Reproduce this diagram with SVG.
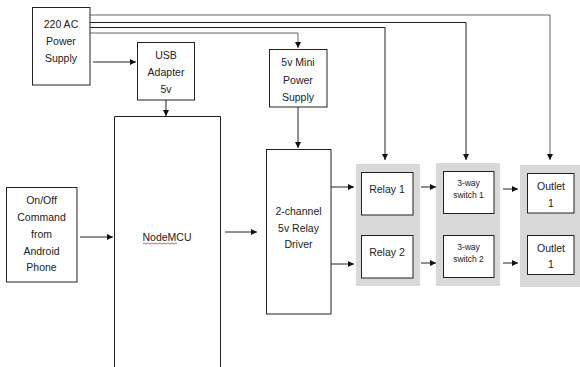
<svg xmlns="http://www.w3.org/2000/svg" width="580" height="367" viewBox="0 0 580 367">
<defs>
<style>
.box{fill:#fff;stroke:#222;stroke-width:1}
.panel{fill:#d9d9d9;stroke:none}
.t{font-family:"Liberation Sans",Arial,sans-serif;font-size:10.5px;fill:#222;text-anchor:middle;dominant-baseline:central}
.s{font-size:8.5px}
.c{fill:none;stroke:#222;stroke-width:1}
.g{stroke:#666}
</style>
<marker id="ah" viewBox="0 0 10 10" refX="10" refY="5" markerWidth="6" markerHeight="6" markerUnits="userSpaceOnUse" orient="auto"><path d="M0,0L10,5L0,10z" fill="#111"/></marker>
</defs>
<rect width="580" height="367" fill="#fff"/>
<g id="panels">
<rect class="panel" x="356" y="164" width="64" height="122"/>
<rect class="panel" x="436" y="163" width="64" height="123"/>
<rect class="panel" x="520" y="165" width="60" height="122"/>
</g>
<g id="connectors">
<path class="c g" d="M90,15H550V160" marker-end="url(#ah)"/>
<path class="c" d="M90,22.5H466V160" marker-end="url(#ah)"/>
<path class="c" d="M90,27.5H385V160" marker-end="url(#ah)"/>
<path class="c g" d="M90,33H298V48" marker-end="url(#ah)"/>
<path class="c" d="M93,62H136" marker-end="url(#ah)"/>
<path class="c" d="M166,100V116" marker-end="url(#ah)"/>
<path class="c" d="M298,107V148" marker-end="url(#ah)"/>
<path class="c" d="M80,237H113" marker-end="url(#ah)"/>
<path class="c" d="M225,232H257" marker-end="url(#ah)"/>
<path class="c" d="M331,187H354" marker-end="url(#ah)"/>
<path class="c" d="M331,264H354" marker-end="url(#ah)"/>
<path class="c" d="M421,187H436" marker-end="url(#ah)"/>
<path class="c" d="M421,263H436" marker-end="url(#ah)"/>
<path class="c" d="M503,189H518" marker-end="url(#ah)"/>
<path class="c" d="M503,263H518" marker-end="url(#ah)"/>
</g>
<g id="ac">
<rect class="box" x="32.5" y="7.5" width="57.5" height="77.5"/>
<text class="t" x="61" y="24">220 AC</text>
<text class="t" x="61" y="41">Power</text>
<text class="t" x="61" y="58">Supply</text>
</g>
<g id="usb">
<rect class="box" x="137.5" y="42.5" width="57" height="57.5"/>
<text class="t" x="166" y="55">USB</text>
<text class="t" x="166" y="72">Adapter</text>
<text class="t" x="166" y="89">5v</text>
</g>
<g id="mini">
<rect class="box" x="269.5" y="49.5" width="57.5" height="57.5"/>
<text class="t" x="298" y="62">5v Mini</text>
<text class="t" x="298" y="80">Power</text>
<text class="t" x="298" y="97">Supply</text>
</g>
<g id="onoff">
<rect class="box" x="6.5" y="187.5" width="70.5" height="94.5"/>
<text class="t" x="41.5" y="200">On/Off</text>
<text class="t" x="41.5" y="217">Command</text>
<text class="t" x="41.5" y="234">from</text>
<text class="t" x="41.5" y="251">Android</text>
<text class="t" x="41.5" y="267">Phone</text>
</g>
<g id="nodemcu">
<path class="box" d="M114.5,368V116.5H220.5V368"/>
<text class="t" x="167" y="237">NodeMCU</text>
<path d="M143,243.5q1,-1 2,0t2,0t2,0t2,0t2,0t2,0t2,0t2,0t2,0t2,0t2,0t2,0t2,0t2,0t2,0t2,0t2,0" fill="none" stroke="#e03030" stroke-width="0.8"/>
</g>
<g id="driver">
<rect class="box" x="266.5" y="149.5" width="64.5" height="164.5"/>
<text class="t" x="298.5" y="211">2-channel</text>
<text class="t" x="298.5" y="228">5v Relay</text>
<text class="t" x="298.5" y="244">Driver</text>
</g>
<g id="relay1">
<rect class="box" x="361.5" y="172.5" width="51.5" height="42.5"/>
<text class="t" x="387" y="189">Relay 1</text>
</g>
<g id="relay2">
<rect class="box" x="361.5" y="235.5" width="51.5" height="42.5"/>
<text class="t" x="387" y="252">Relay 2</text>
</g>
<g id="switch1">
<rect class="box" x="443.5" y="171.5" width="50.5" height="42"/>
<text class="t s" x="468.5" y="183">3-way</text>
<text class="t s" x="468.5" y="195">switch 1</text>
</g>
<g id="switch2">
<rect class="box" x="443.5" y="235.5" width="50.5" height="42"/>
<text class="t s" x="468.5" y="247">3-way</text>
<text class="t s" x="468.5" y="259">switch 2</text>
</g>
<g id="outlet1">
<rect class="box" x="527.5" y="173.5" width="46.5" height="39.5"/>
<text class="t" x="551" y="185.5">Outlet</text>
<text class="t" x="551" y="202.5">1</text>
</g>
<g id="outlet2">
<rect class="box" x="527.5" y="235.5" width="46.5" height="39"/>
<text class="t" x="551" y="248">Outlet</text>
<text class="t" x="551" y="264">1</text>
</g>
</svg>
